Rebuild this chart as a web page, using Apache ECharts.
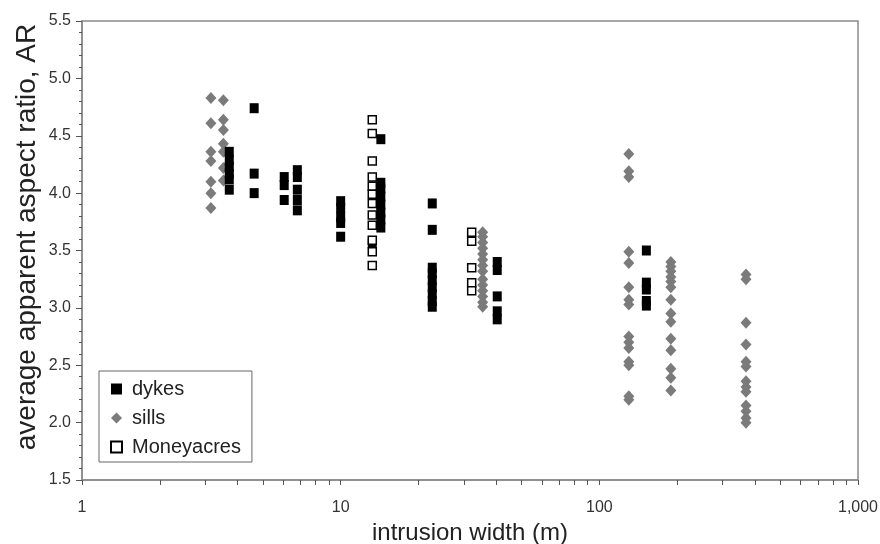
<!DOCTYPE html>
<html>
<head>
<meta charset="utf-8">
<script src="https://cdn.jsdelivr.net/npm/echarts@6/dist/echarts.min.js"></script>
<style>
html,body{margin:0;padding:0;background:#fff;}
#chart{width:880px;height:544px;}
</style>
</head>
<body>
<div id="chart"></div>
<script>
// ---- data (intrusion width in m, average apparent aspect ratio) ----
const dykesWidth = [
  3.71,3.71,3.71,3.71,3.71,3.71,
  4.63,4.63,4.63,
  6.05,6.05,6.05,
  6.80,6.80,6.80,6.80,6.80,
  10.0,10.0,10.0,10.0,10.0,
  14.3,14.3,14.3,14.3,14.3,14.3,14.3,14.3,
  13.25,
  22.6,22.6,22.6,22.6,22.6,22.6,22.6,22.6,22.6,
  40.3,40.3,40.3,40.3,40.3,
  152,152,152,152,152
];
const dykesAR = [
  4.36,4.29,4.23,4.17,4.12,4.03,
  4.74,4.17,4.00,
  4.14,4.07,3.94,
  4.20,4.14,4.03,3.94,3.85,
  3.93,3.87,3.79,3.74,3.62,
  4.47,4.09,4.04,3.97,3.90,3.83,3.77,3.70,
  3.56,
  3.91,3.68,3.35,3.30,3.24,3.18,3.12,3.06,3.01,
  3.40,3.33,3.10,2.97,2.90,
  3.50,3.22,3.16,3.06,3.02
];
const sillsWidth = [
  3.15,3.15,3.15,3.15,3.15,3.15,3.15,
  3.52,3.52,3.52,3.52,3.52,3.52,3.52,
  35.4,35.4,35.4,35.4,35.4,35.4,35.4,35.4,35.4,35.4,35.4,35.4,35.4,35.4,
  130,130,130,130,130,130,130,130,130,130,130,130,130,130,130,
  189,189,189,189,189,189,189,189,189,189,189,189,189,189,
  369,369,369,369,369,369,369,369,369,369,369,369,369
];
const sillsAR = [
  4.83,4.61,4.36,4.28,4.10,4.00,3.87,
  4.81,4.64,4.55,4.43,4.36,4.22,4.11,
  3.66,3.62,3.57,3.52,3.47,3.42,3.37,3.32,3.25,3.20,3.15,3.10,3.05,3.01,
  4.34,4.19,4.14,3.49,3.39,3.18,3.07,3.03,2.75,2.70,2.65,2.53,2.50,2.23,2.20,
  3.40,3.36,3.32,3.27,3.23,3.18,3.07,2.95,2.88,2.73,2.63,2.47,2.39,2.28,
  3.29,3.25,2.87,2.68,2.53,2.49,2.36,2.31,2.27,2.15,2.10,2.04,2.00
];
const moneyWidth = [
  13.25,13.25,13.25,13.25,13.25,13.25,13.25,13.25,13.25,13.25,13.25,13.25,
  32.1,32.1,32.1,32.1,32.1
];
const moneyAR = [
  4.64,4.52,4.28,4.14,4.06,3.99,3.91,3.81,3.72,3.59,3.49,3.37,
  3.66,3.58,3.35,3.22,3.15
];
const seriesNames = ['dykes','sills','Moneyacres'];
const xTitle = 'intrusion width (m)';
const yTitle = 'average apparent aspect ratio, AR';

function pairs(xs, ys){ return xs.map((x,i)=>[x, ys[i]]); }

const chart = echarts.init(document.getElementById('chart'), null, {renderer:'canvas'});
const axisGray = '#8a8a8a';
const font = 'Liberation Sans, Arial, sans-serif';

chart.setOption({
  backgroundColor:'#ffffff',
  animation:false,
  grid:{left:82, right:22, top:21, bottom:64, show:true, borderColor:axisGray, borderWidth:1.5,
        backgroundColor:'transparent', containLabel:false, outerBoundsMode:'none'},
  xAxis:{
    type:'log', logBase:10, min:1, max:1000,
    name:xTitle, nameLocation:'middle', nameGap:41,
    nameTextStyle:{fontSize:24, color:'#222', fontFamily:font},
    axisLine:{show:true, lineStyle:{color:axisGray, width:1.5}},
    axisTick:{show:true, inside:false, length:5, lineStyle:{color:'#555'}},
    minorTick:{show:true, splitNumber:9, length:5, lineStyle:{color:'#555'}},
    axisLabel:{fontSize:16, color:'#333', margin:20, fontFamily:font,
      formatter:v=>Number(v).toLocaleString('en-US')},
    splitLine:{show:false}, minorSplitLine:{show:false}
  },
  yAxis:{
    type:'value', min:1.5, max:5.5, interval:0.5,
    axisLine:{show:true, lineStyle:{color:axisGray, width:1.5}},
    axisTick:{show:true, inside:false, length:6, lineStyle:{color:'#555'}},
    minorTick:{show:true, splitNumber:5, length:3, lineStyle:{color:'#555'}},
    axisLabel:{fontSize:16, color:'#333', margin:11, fontFamily:font,
      formatter:v=>Number(v).toFixed(1)},
    splitLine:{show:false}
  },
  graphic:[{
    type:'text',
    rotation:Math.PI/2,
    x:27, y:237,
    style:{text:yTitle, fontSize:28, fill:'#222', fontFamily:font, textAlign:'center', textVerticalAlign:'middle'}
  }],
  legend:{
    orient:'vertical', left:99, top:371,
    backgroundColor:'#fff', borderColor:'#666', borderWidth:1,
    padding:[8,11,5,11], itemGap:9, itemWidth:11, itemHeight:11,
    textStyle:{fontSize:20, color:'#222', fontFamily:font, padding:[0,0,0,5]},
    data:seriesNames
  },
  series:[
    {name:seriesNames[1], type:'scatter', symbol:'diamond', symbolSize:[11,12],
     itemStyle:{color:'#7b7b7b', opacity:1}, data:pairs(sillsWidth, sillsAR), z:2},
    {name:seriesNames[0], type:'scatter', symbol:'rect', symbolSize:[9,10],
     itemStyle:{color:'#000', opacity:1}, data:pairs(dykesWidth, dykesAR), z:3},
    {name:seriesNames[2], type:'scatter', symbol:'rect', symbolSize:8,
     itemStyle:{color:'#fff', borderColor:'#000', borderWidth:1.5, opacity:1}, data:pairs(moneyWidth, moneyAR), z:4}
  ]
});
</script>
</body>
</html>
